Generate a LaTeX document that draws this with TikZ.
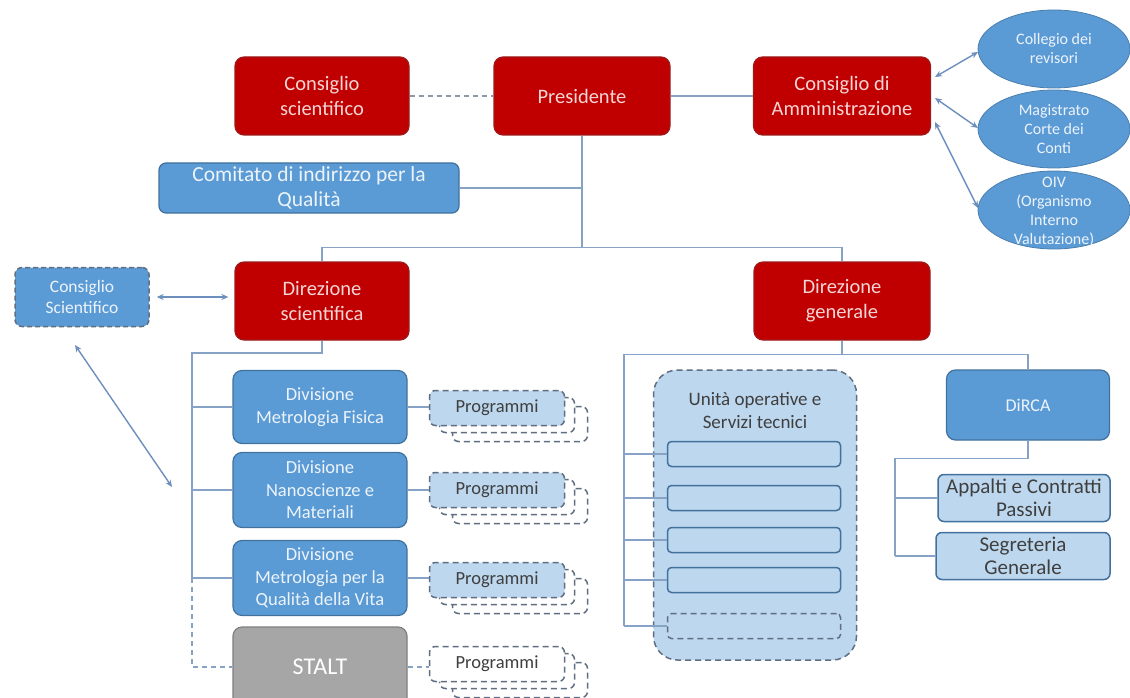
\documentclass[tikz,border=0pt]{standalone}
\usepackage{fontspec}
\setmainfont{Carlito}
\usetikzlibrary{shapes.geometric,arrows.meta,calc}
\definecolor{redf}{HTML}{C00000}
\definecolor{redd}{HTML}{9E1B1B}
\definecolor{redt}{HTML}{F6D5D5}
\definecolor{bluef}{HTML}{5B9BD5}
\definecolor{blued}{HTML}{41719C}
\definecolor{bluet}{HTML}{EDF3FA}
\definecolor{lbluef}{HTML}{BDD7EE}
\definecolor{linec}{HTML}{86A3C6}
\definecolor{dashc}{HTML}{5F6E80}
\definecolor{darkt}{HTML}{3F3F3F}
\definecolor{grayf}{HTML}{A6A6A6}
\definecolor{grayd}{HTML}{7F7F7F}
\definecolor{arrc}{HTML}{6C8FBE}
\tikzset{
 box/.style={rectangle, rounded corners=9pt, line width=1.2pt, align=center, inner sep=0pt},
 redbox/.style={box, fill=redf, draw=redd, text=redt, font=\fontsize{20.5}{25}\selectfont},
 bluebox/.style={box, fill=bluef, draw=blued, text=bluet, font=\fontsize{18.5}{22.5}\selectfont},
 lbox/.style={box, fill=lbluef, draw=blued, text=darkt, rounded corners=6pt, line width=1.5pt, font=\fontsize{21}{23}\selectfont},
 dbox/.style={box, dash pattern=on 6pt off 4pt, draw=dashc, line width=1.5pt, rounded corners=6pt},
 conn/.style={draw=linec, line width=1.5pt},
 dconn/.style={conn, dash pattern=on 5pt off 4pt},
 arr/.style={draw=arrc, line width=1.4pt, {Stealth[length=7pt,width=6pt]}-{Stealth[length=7pt,width=6pt]}},
 ell/.style={ellipse, fill=bluef, draw=blued!70!bluef, line width=0.8pt, minimum width=152pt, minimum height=78pt, inner sep=0pt},
 elt/.style={align=center, text=bluet, inner sep=0pt, font=\fontsize{16}{19}\selectfont},
 progf/.style={dbox, minimum width=135pt, minimum height=35pt, text=darkt, font=\fontsize{18.5}{22}\selectfont},
 ibox/.style={box, fill=lbluef, draw=blued, line width=1.5pt, rounded corners=4pt, minimum width=173pt, minimum height=25pt},
}
\newcommand{\progstack}[4]{%
 \node[progf, fill=white] (#1c) at (#2+23,#3+16) {};
 \node[progf, fill=white] (#1b) at (#2+10,#3+7) {};
 \node[progf, fill=#4] (#1) at (#2,#3) {Programmi};
}
\begin{document}
\begin{tikzpicture}[x=1pt,y=-1pt]
\useasboundingbox (0,0) rectangle (1130,698);
\clip (0,0) rectangle (1130,698);
\fill[white] (0,0) rectangle (1130,698);

% top row
\node[redbox, minimum width=174pt, minimum height=78pt] (cs) at (322,96) {Consiglio\\scientifico};
\node[redbox, minimum width=176pt, minimum height=78pt] (pres) at (582,96) {Presidente};
\node[redbox, minimum width=177pt, minimum height=78pt] (cda) at (842,96) {Consiglio di\\Amministrazione};
\node[bluebox, minimum width=300pt, minimum height=50pt, rounded corners=7pt, font=\fontsize{21.5}{25}\selectfont] (com) at (309,188) {Comitato di indirizzo per la\\Qualità};

% ellipses
\begin{scope}
\clip (950,0) rectangle (1130,249);
\node[ell] (e1) at (1054,49) {};
\node[elt] (e1t) at (e1.center) {Collegio dei\\revisori};
\node[ell] (e2) at (1054,129) {};
\node[elt] (e2t) at (e2.center) {Magistrato\\Corte dei\\Conti};
\node[ell] (e3) at (1054,210) {};
\node[elt] (e3t) at (1054,212) {OIV\\(Organismo\\Interno\\Valutazione)};
\end{scope}
\coordinate (a1s) at (935,77);
\coordinate (a2s) at (935,98);
\coordinate (a3s) at (935,122);
\coordinate (a1e) at (978,52);
\coordinate (a2e) at (978,128);
\coordinate (a3e) at (978,208);
\draw[arr] (a1s) -- (a1e);
\draw[arr] (a2s) -- (a2e);
\draw[arr] (a3s) -- (a3e);

% second row
\node[redbox, minimum width=174pt, minimum height=78pt] (ds) at (322,301) {Direzione\\scientifica};
\node[redbox, minimum width=176pt, minimum height=78pt] (dg) at (842,301) {Direzione\\generale};
\node[bluebox, dash pattern=on 5pt off 3pt, draw=dashc, line width=1.5pt, rounded corners=7pt, minimum width=134pt, minimum height=59pt, font=\fontsize{17.5}{21}\selectfont] (cs2) at (82,297) {Consiglio\\Scientifico};

\draw[dconn, draw=dashc!70] (cs) -- (pres);
\draw[conn] (pres) -- (cda);
\draw[conn] (pres.south) -- (pres.south |- 0,248);
\draw[conn] (com.east) -- (com.east -| pres.south);
\draw[conn] (ds.north) -- ++(0,-14) -| (dg.north);
\draw[arr, shorten <=7pt, shorten >=6pt] (cs2.east) -- (cs2.east -| ds.west);
\coordinate (d1s) at (75,345);
\coordinate (d1e) at (172,487);
\draw[arr] (d1s) -- (d1e);

% divisions
\node[bluebox, minimum width=174pt, minimum height=73pt] (dv1) at (320,407) {Divisione\\Metrologia Fisica};
\node[bluebox, minimum width=174pt, minimum height=75pt] (dv2) at (320,490) {Divisione\\Nanoscienze e\\Materiali};
\node[bluebox, minimum width=174pt, minimum height=75pt] (dv3) at (320,578) {Divisione\\Metrologia per la\\Qualità della Vita};
\node[box, fill=grayf, draw=grayd, text=white, minimum width=174pt, minimum height=80pt, font=\fontsize{24}{28}\selectfont] (stalt) at (320,667) {STALT};

\coordinate (tr) at (192,353);
\draw[conn] (ds.south) |- (tr) -- (tr |- dv3.west);
\draw[conn] (tr |- dv1.west) -- (dv1.west);
\draw[conn] (tr |- dv2.west) -- (dv2.west);
\draw[conn] (tr |- dv3.west) -- (dv3.west);
\draw[dconn] (tr |- dv3.west) |- (stalt.west);

\progstack{p1}{497}{408}{lbluef}
\progstack{p2}{497}{490}{lbluef}
\progstack{p3}{497}{580}{lbluef}
\progstack{p4}{497}{664}{white}
\draw[conn] (dv1.east) -- (dv1.east -| p1.west);
\draw[conn] (dv2.east) -- (dv2.east -| p2.west);
\draw[conn] (dv3.east) -- (dv3.east -| p3.west);
\draw[dconn] (stalt.east) -- (stalt.east -| p4.west);

% Direzione generale branch
\node[box, fill=lbluef, draw=dashc, dash pattern=on 6pt off 4pt, line width=1.5pt, rounded corners=24pt, minimum width=203pt, minimum height=290pt] (uo) at (755,515) {};
\node[align=center, text=darkt, font=\fontsize{19}{23}\selectfont] (uot) at (755,410) {Unità operative e\\Servizi tecnici};
\node[ibox] (u1) at (754,454) {};
\node[ibox] (u2) at (754,498) {};
\node[ibox] (u3) at (754,540) {};
\node[ibox] (u4) at (754,580) {};
\node[ibox, draw=dashc, dash pattern=on 6pt off 4pt] (u5) at (754,626) {};

\node[bluebox, minimum width=163pt, minimum height=70pt, font=\fontsize{18}{21}\selectfont] (dirca) at (1028,405) {DiRCA};
\node[lbox, minimum width=172pt, minimum height=47pt] (ap) at (1024,498) {Appalti e Contratti\\Passivi};
\node[lbox, minimum width=174pt, minimum height=47pt] (sg) at (1023,556) {Segreteria\\Generale};

\coordinate (gl) at (624,626);
\draw[conn] (dg.south) -- ++(0,14) -| (dirca.north);
\draw[conn] (dg.south) -- ++(0,14) -| (gl);
\draw[conn] (gl |- u1.west) -- (u1.west);
\draw[conn] (gl |- u2.west) -- (u2.west);
\draw[conn] (gl |- u3.west) -- (u3.west);
\draw[conn] (gl |- u4.west) -- (u4.west);
\draw[conn] (gl) -- (u5.west);

\coordinate (dl) at (895,556);
\draw[conn] (dirca.south) -- ++(0,18) -| (dl);
\draw[conn] (dl |- ap.west) -- (ap.west);
\draw[conn] (dl) -- (sg.west);
\end{tikzpicture}
\end{document}
